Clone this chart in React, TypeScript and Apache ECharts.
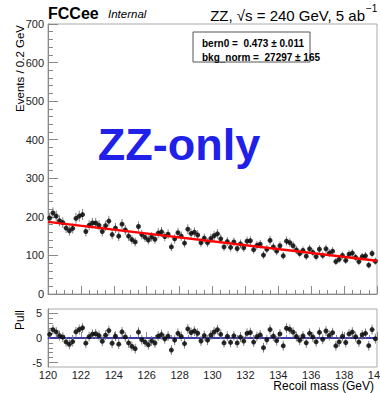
import React, { useEffect, useRef } from "react";
import * as echarts from "echarts";

// Bin centers: 120.1 ... 139.9 (0.2 GeV bins)
const binStart = 120;
const binWidth = 0.2;
const counts: number[] = [
  197, 210, 202, 190, 185, 171, 164, 170, 196, 202,
  206, 162, 178, 184, 184, 178, 162, 177, 189, 154,
  171, 150, 181, 166, 150, 141, 135, 175, 154, 147,
  140, 148, 142, 158, 161, 149, 155, 122, 143, 159,
  150, 132, 168, 157, 160, 153, 133, 145, 133, 144,
  151, 156, 143, 122, 136, 121, 135, 118, 130, 120,
  137, 138, 115, 126, 129, 101, 116, 139, 122, 111,
  125, 99, 137, 133, 125, 114, 105, 113, 98, 117,
  108, 97, 116, 100, 117, 106, 111, 84, 90, 100,
  87, 103, 106, 95, 84, 97, 99, 75, 105, 85,
];
// Fit curve (linear Bernstein) end points
const fitX: number[] = [120, 140];
const fitY: number[] = [187, 86];

const yTicksTop: number[] = [0, 100, 200, 300, 400, 500, 600, 700];
const xTickLabels: number[] = [120, 122, 124, 126, 128, 130, 132, 134, 136, 138, 140];
const pullMajor: number[] = [-5, 0, 5];
const pullMinor: number[] = [-5, -4, -3, -2, -1, 0, 1, 2, 3, 4, 5];

const FONT = "Liberation Sans, Arial, Helvetica, sans-serif";

function fitAt(x: number): number {
  const t = (x - fitX[0]) / (fitX[1] - fitX[0]);
  return fitY[0] + t * (fitY[1] - fitY[0]);
}

export default function App() {
  const ref = useRef<HTMLDivElement>(null);
  useEffect(() => {
    if (!ref.current) return;
    const chart = echarts.init(ref.current, undefined, { renderer: "svg" });
    const pts = counts.map((c, i) => {
      const x = binStart + binWidth * (i + 0.5);
      return [x, c, Math.sqrt(c)];
    });
    const pulls = pts.map(([x, c, e]) => [x, (c - fitAt(x)) / e, 1]);

    const errRender = (params: any, api: any) => {
      const x = api.value(0);
      const y = api.value(1);
      const e = api.value(2);
      const top = api.coord([x, y + e]);
      const bot = api.coord([x, y - e]);
      const l = api.coord([x - binWidth / 2, y]);
      const r = api.coord([x + binWidth / 2, y]);
      const st = { stroke: "#808080", lineWidth: 1 };
      return {
        type: "group",
        children: [
          { type: "line", shape: { x1: top[0], y1: top[1], x2: bot[0], y2: bot[1] }, style: st },
          { type: "line", shape: { x1: l[0], y1: l[1], x2: r[0], y2: r[1] }, style: st },
        ],
      };
    };

    const axisLineStyle = { color: "#888", width: 1 };
    const labelStyle = { color: "#222", fontFamily: FONT, fontSize: 11 };
    const lastX = xTickLabels[xTickLabels.length - 1];

    chart.setOption({
      animation: false,
      grid: [
        { left: 48, right: 3, top: 24, height: 270, show: true, borderColor: "#aaa", borderWidth: 1 },
        { left: 48, right: 3, top: 309, height: 58, show: true, borderColor: "#aaa", borderWidth: 1 },
      ],
      xAxis: [
        {
          type: "value", gridIndex: 0, min: xTickLabels[0], max: lastX, interval: 2,
          axisLine: { show: true, lineStyle: axisLineStyle },
          axisTick: { show: true, inside: true, length: 8, lineStyle: axisLineStyle },
          minorTick: { show: true, splitNumber: 4, length: 4, lineStyle: axisLineStyle },
          axisLabel: { show: false },
          splitLine: { show: false },
        },
        {
          type: "value", gridIndex: 1, min: xTickLabels[0], max: lastX, interval: 2,
          axisLine: { show: true, lineStyle: axisLineStyle },
          axisTick: { show: true, inside: true, length: 6, lineStyle: axisLineStyle },
          minorTick: { show: true, splitNumber: 4, length: 3, lineStyle: axisLineStyle },
          axisLabel: { ...labelStyle, margin: 2, showMaxLabel: false },
          splitLine: { show: false },
        },
      ],
      yAxis: [
        {
          type: "value", gridIndex: 0, min: yTicksTop[0], max: yTicksTop[yTicksTop.length - 1], interval: 100,
          axisLine: { show: true, lineStyle: axisLineStyle },
          axisTick: { show: true, inside: true, length: 10, lineStyle: axisLineStyle },
          minorTick: { show: true, splitNumber: 5, length: 5, lineStyle: axisLineStyle },
          axisLabel: { ...labelStyle, margin: 4 },
          splitLine: { show: false },
        },
        {
          type: "value", gridIndex: 1, min: -5.9, max: 5.9, position: "left", offset: 0,
          axisLine: { show: true, lineStyle: axisLineStyle },
          axisTick: { show: true, inside: true, length: 10, customValues: pullMajor, lineStyle: axisLineStyle },
          axisLabel: { ...labelStyle, margin: 6, customValues: pullMajor },
          splitLine: { show: false },
        },
        {
          type: "value", gridIndex: 1, min: -5.9, max: 5.9, position: "left", offset: 0,
          axisLine: { show: false },
          axisTick: { show: true, inside: true, length: 5, customValues: pullMinor, lineStyle: axisLineStyle },
          axisLabel: { show: false },
          splitLine: { show: false },
        },
      ],
      series: [
        {
          type: "custom", xAxisIndex: 0, yAxisIndex: 0, renderItem: errRender,
          data: pts, z: 2, silent: true,
        },
        {
          type: "scatter", xAxisIndex: 0, yAxisIndex: 0, data: pts.map((p) => [p[0], p[1]]),
          symbol: "circle", symbolSize: 5, itemStyle: { color: "#000" }, z: 3, silent: true,
        },
        {
          type: "line", xAxisIndex: 0, yAxisIndex: 0,
          data: fitX.map((x, i) => [x, fitY[i]]),
          showSymbol: false, lineStyle: { color: "#ff0000", width: 2.5 }, z: 4, silent: true,
        },
        {
          type: "line", xAxisIndex: 1, yAxisIndex: 1,
          data: [[xTickLabels[0], 0], [lastX, 0]],
          showSymbol: false, lineStyle: { color: "#3c3ca8", width: 2 }, z: 2, silent: true,
        },
        {
          type: "custom", xAxisIndex: 1, yAxisIndex: 1, renderItem: errRender,
          data: pulls, z: 3, silent: true,
        },
        {
          type: "scatter", xAxisIndex: 1, yAxisIndex: 1, data: pulls.map((p) => [p[0], p[1]]),
          symbol: "circle", symbolSize: 5, itemStyle: { color: "#000" }, z: 4, silent: true,
        },
      ],
      graphic: [
        { type: "text", x: 48, y: 13, style: { text: "FCCee", font: `bold 16px ${FONT}`, fill: "#000", verticalAlign: "middle" } },
        { type: "text", x: 108, y: 14, style: { text: "Internal", font: `italic 11.5px ${FONT}`, fill: "#000", verticalAlign: "middle" } },
        { type: "text", x: 365, y: 15, style: { text: "ZZ, √s = 240 GeV, 5 ab", font: `15px ${FONT}`, fill: "#000", align: "right", verticalAlign: "middle" } },
        { type: "text", x: 366, y: 8, style: { text: "−1", font: `10px ${FONT}`, fill: "#000", align: "left", verticalAlign: "middle" } },
        { type: "rect", shape: { x: 193, y: 32, width: 117, height: 30 }, style: { fill: "#fff", stroke: "#555", lineWidth: 1 }, z: 10 },
        { type: "text", x: 202, y: 43, z: 11, style: { text: "bern0 =  0.473 ± 0.011", font: `bold 10px ${FONT}`, fill: "#000", verticalAlign: "middle" } },
        { type: "text", x: 202, y: 57, z: 11, style: { text: "bkg_norm =  27297 ± 165", font: `bold 10px ${FONT}`, fill: "#000", verticalAlign: "middle" } },
        { type: "text", x: 179, y: 144, z: 11, style: { text: "ZZ-only", font: `bold 45px ${FONT}`, fill: "#2020e8", align: "center", verticalAlign: "middle" } },
        { type: "text", x: 20, y: 25, rotation: Math.PI / 2, style: { text: "Events / 0.2 GeV", font: `11.5px ${FONT}`, fill: "#000", align: "right", verticalAlign: "middle" } },
        { type: "text", x: 20, y: 310, rotation: Math.PI / 2, style: { text: "Pull", font: `12px ${FONT}`, fill: "#000", align: "right", verticalAlign: "middle" } },
        { type: "text", x: 377, y: 375, style: { text: String(lastX), font: `11px ${FONT}`, fill: "#222", align: "center", verticalAlign: "middle" } },
        { type: "text", x: 374, y: 386, style: { text: "Recoil mass (GeV)", font: `12px ${FONT}`, fill: "#000", align: "right", verticalAlign: "middle" } },
      ],
    });
    return () => chart.dispose();
  }, []);
  return <div ref={ref} style={{ position: "fixed", left: 0, top: 0, width: 380, height: 393, background: "#fff" }} />;
}
